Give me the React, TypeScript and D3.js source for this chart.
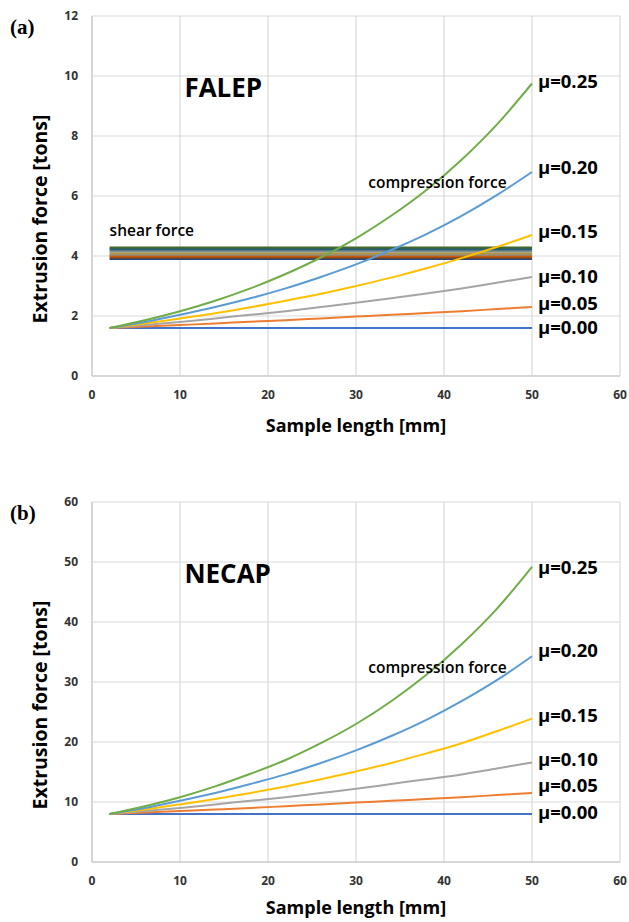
import React from "react";
import * as d3 from "d3";

// sample length [mm] where the curves were read
const lengths = [2, 6, 10, 14, 18, 22, 26, 30, 34, 38, 42, 46, 50];
const frictionLabels = ["μ=0.00", "μ=0.05", "μ=0.10", "μ=0.15", "μ=0.20", "μ=0.25"];

// FALEP, extrusion force [tons]
const falepMu000 = [1.6, 1.6, 1.6, 1.6, 1.6, 1.6, 1.6, 1.6, 1.6, 1.6, 1.6, 1.6, 1.6];
const falepMu005 = [1.6, 1.65, 1.7, 1.75, 1.81, 1.86, 1.92, 1.98, 2.04, 2.1, 2.16, 2.23, 2.3];
const falepMu010 = [1.6, 1.7, 1.8, 1.92, 2.04, 2.16, 2.3, 2.44, 2.59, 2.75, 2.92, 3.11, 3.3];
const falepMu015 = [1.6, 1.75, 1.92, 2.09, 2.29, 2.51, 2.74, 3.0, 3.28, 3.59, 3.93, 4.3, 4.7];
const falepMu020 = [1.6, 1.8, 2.04, 2.3, 2.59, 2.92, 3.3, 3.72, 4.2, 4.73, 5.34, 6.03, 6.8];
const falepMu025 = [1.6, 1.86, 2.16, 2.51, 2.92, 3.4, 3.95, 4.59, 5.34, 6.2, 7.21, 8.38, 9.75];
// shear force levels (constant lines)
const shearLevels = [3.9, 3.95, 4.0, 4.04, 4.08, 4.13, 4.18, 4.23, 4.28];

// NECAP, extrusion force [tons]
const necapMu000 = [8, 8, 8, 8, 8, 8, 8, 8, 8, 8, 8, 8, 8];
const necapMu005 = [8, 8.25, 8.5, 8.75, 9.0, 9.3, 9.6, 9.9, 10.2, 10.5, 10.8, 11.15, 11.5];
const necapMu010 = [8, 8.5, 9.0, 9.6, 10.2, 10.8, 11.5, 12.2, 13.0, 13.8, 14.6, 15.6, 16.6];
const necapMu015 = [8, 8.75, 9.6, 10.5, 11.5, 12.6, 13.8, 15.1, 16.5, 18.1, 19.8, 21.8, 23.9];
const necapMu020 = [8, 9.0, 10.2, 11.5, 13.0, 14.6, 16.5, 18.6, 21.0, 23.7, 26.8, 30.3, 34.3];
const necapMu025 = [8, 9.3, 10.8, 12.6, 14.7, 17.0, 19.8, 23.0, 26.8, 31.2, 36.3, 42.2, 49.2];

// where the μ labels sit (in tons)
const falepLabelAt = [1.6, 2.43, 3.3, 4.8, 6.95, 9.8];
const necapLabelAt = [8.3, 12.7, 17.1, 24.4, 35.2, 49.0];

const xTicks = [0, 10, 20, 30, 40, 50, 60];
const falepTicks = [0, 2, 4, 6, 8, 10, 12];
const necapTicks = [0, 10, 20, 30, 40, 50, 60];

const curveColors = ["#4472C4", "#ED7D31", "#A5A5A5", "#FFC000", "#5B9BD5", "#70AD47"];
const shearColors = ["#264478", "#9E480E", "#C55A11", "#8C8C8C", "#B8933A", "#A5A58C", "#5A7A8C", "#255E70", "#43682B"];

const font = "'Open Sans', sans-serif";

function Panel({ top, tag, title, yMax, yTicks, series, labelAt, shear, compY, xTitleOff }) {
  const left = 92, right = 620, h = 360;
  const x = d3.scaleLinear().domain([0, 60]).range([left, right]);
  const y = d3.scaleLinear().domain([0, yMax]).range([top + h, top]);
  const line = d3.line().x((d) => x(d[0])).y((d) => y(d[1])).curve(d3.curveMonotoneX);

  return (
    <g>
      {yTicks.map((t) => (
        <line key={"h" + t} x1={left} x2={right} y1={y(t)} y2={y(t)} stroke="#d9d9d9" strokeWidth={1.2} />
      ))}
      {xTicks.map((t) => (
        <line key={"v" + t} x1={x(t)} x2={x(t)} y1={top} y2={top + h} stroke="#d9d9d9" strokeWidth={1.2} />
      ))}
      <line x1={left} x2={left} y1={top} y2={top + h} stroke="#d0d0d0" strokeWidth={1.5} />
      <line x1={left} x2={right} y1={top + h} y2={top + h} stroke="#d0d0d0" strokeWidth={1.5} />

      {yTicks.map((t) => (
        <text key={"yl" + t} x={left - 14} y={y(t)} dy="0.35em" textAnchor="end"
          fontFamily={font} fontWeight={700} fontSize={12} fill="#333">{t}</text>
      ))}
      {xTicks.map((t) => (
        <text key={"xl" + t} x={x(t)} y={top + h + 23} textAnchor="middle"
          fontFamily={font} fontWeight={700} fontSize={12} fill="#333">{t}</text>
      ))}

      {shear && shear.map((v, i) => (
        <line key={"s" + i} x1={x(lengths[0])} x2={x(lengths[lengths.length - 1])} y1={y(v)} y2={y(v)}
          stroke={shearColors[i]} strokeWidth={2} />
      ))}

      {series.map((vals, i) => (
        <path key={"c" + i} d={line(lengths.map((l, j) => [l, vals[j]]))} fill="none"
          stroke={curveColors[i]} strokeWidth={2} />
      ))}

      {labelAt.map((v, i) => (
        <text key={"m" + i} x={x(50) + 6} y={y(v)} dy="0.35em" fontFamily={font} fontWeight={700}
          fontSize={18.5} fill="#000">{frictionLabels[i]}</text>
      ))}

      <text x={x(10.5)} y={y(yMax * 0.8)} dy="0.35em" fontFamily={font} fontWeight={700} fontSize={26} fill="#000">{title}</text>
      {shear && (
        <text x={x(2)} y={y(4.67)} fontFamily={font} fontWeight={600} fontSize={15.5} fill="#000">shear force</text>
      )}
      <text x={x(31.4)} y={y(compY)} fontFamily={font} fontWeight={600} fontSize={15.5} fill="#000">compression force</text>

      <text x={10} y={top + 18} fontFamily="'Liberation Serif', 'Times New Roman', serif" fontWeight={700} fontSize={21} fill="#000">{tag}</text>
      <text transform={`translate(${47},${top + h / 2 + 23}) rotate(-90)`} textAnchor="middle"
        fontFamily={font} fontWeight={700} fontSize={19.5} fill="#000">Extrusion force [tons]</text>
      <text x={x(30)} y={top + h + xTitleOff} textAnchor="middle" fontFamily={font} fontWeight={700} fontSize={18} fill="#000">Sample length [mm]</text>
    </g>
  );
}

export default function App() {
  const falep = [falepMu000, falepMu005, falepMu010, falepMu015, falepMu020, falepMu025];
  const necap = [necapMu000, necapMu005, necapMu010, necapMu015, necapMu020, necapMu025];
  return (
    <svg width={629} height={922} style={{ position: "absolute", left: 0, top: 0, background: "#fff" }}>
      <rect width={629} height={922} fill="#fff" />
      <Panel top={16} tag="(a)" title="FALEP" yMax={12} yTicks={falepTicks} series={falep}
        labelAt={falepLabelAt} shear={shearLevels} compY={6.27} xTitleOff={56} />
      <Panel top={502} tag="(b)" title="NECAP" yMax={60} yTicks={necapTicks} series={necap}
        labelAt={necapLabelAt} shear={null} compY={31.5} xTitleOff={52} />
    </svg>
  );
}
